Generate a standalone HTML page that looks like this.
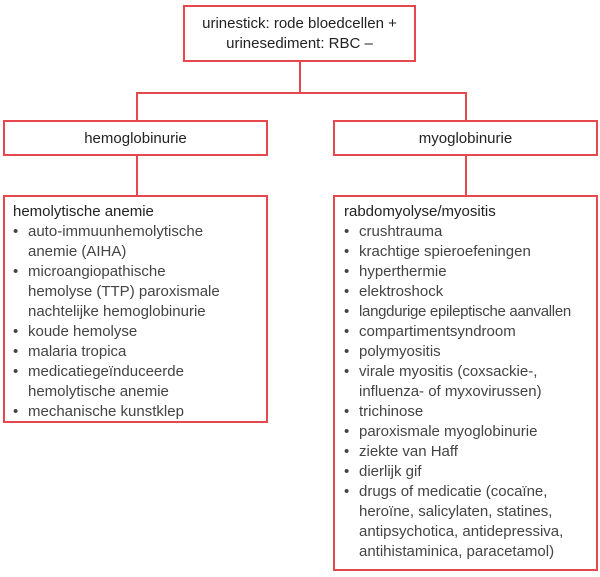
<!DOCTYPE html>
<html><head><meta charset="utf-8"><style>
body{margin:0;width:600px;height:577px;background:#fff;position:relative;font-family:"Liberation Sans",sans-serif;overflow:hidden}
.b{position:absolute;border:2px solid #e5484d;box-sizing:border-box;background:#fff}
.l{position:absolute;background:#e5484d}
.c{display:flex;align-items:center;justify-content:center;text-align:center;color:#222;font-size:15px;line-height:20px}
.list{padding:5px 0 0 8px;font-size:15px;line-height:20px;color:#444}
.list h{display:block;color:#222}
.list ul{margin:0;padding:0;list-style:none}
.list li{position:relative;padding-left:15px}
.list li:before{content:"•";position:absolute;left:0;color:#444}
</style></head><body>
<div class="l" style="left:299px;top:60px;width:2px;height:34px"></div>
<div class="l" style="left:136px;top:92px;width:331px;height:2px"></div>
<div class="l" style="left:136px;top:92px;width:2px;height:30px"></div>
<div class="l" style="left:465px;top:92px;width:2px;height:30px"></div>
<div class="l" style="left:136px;top:155px;width:2px;height:42px"></div>
<div class="l" style="left:465px;top:155px;width:2px;height:42px"></div>
<div class="b c" style="left:183px;top:5px;width:233px;height:57px">urinestick: rode bloedcellen +<br>urinesediment: RBC –</div>
<div class="b c" style="left:3px;top:120px;width:265px;height:36px;padding-top:2px">hemoglobinurie</div>
<div class="b c" style="left:333px;top:120px;width:265px;height:36px;padding-top:2px">myoglobinurie</div>
<div class="b list" style="left:3px;top:195px;width:265px;height:228px"><h>hemolytische anemie</h><ul>
<li>auto-immuunhemolytische<br>anemie (AIHA)</li>
<li>microangiopathische<br>hemolyse (TTP) paroxismale<br>nachtelijke hemoglobinurie</li>
<li>koude hemolyse</li>
<li>malaria tropica</li>
<li>medicatiegeïnduceerde<br>hemolytische anemie</li>
<li>mechanische kunstklep</li></ul></div>
<div class="b list" style="left:333px;top:195px;width:265px;height:376px;padding-left:9px"><h>rabdomyolyse/myositis</h><ul>
<li>crushtrauma</li>
<li>krachtige spieroefeningen</li>
<li>hyperthermie</li>
<li>elektroshock</li>
<li style="white-space:nowrap;letter-spacing:-0.3px">langdurige epileptische aanvallen</li>
<li>compartimentsyndroom</li>
<li>polymyositis</li>
<li>virale myositis (coxsackie-,<br>influenza- of myxovirussen)</li>
<li>trichinose</li>
<li>paroxismale myoglobinurie</li>
<li>ziekte van Haff</li>
<li>dierlijk gif</li>
<li>drugs of medicatie (cocaïne,<br>heroïne, salicylaten, statines,<br>antipsychotica, antidepressiva,<br>antihistaminica, paracetamol)</li></ul></div>
</body></html>
